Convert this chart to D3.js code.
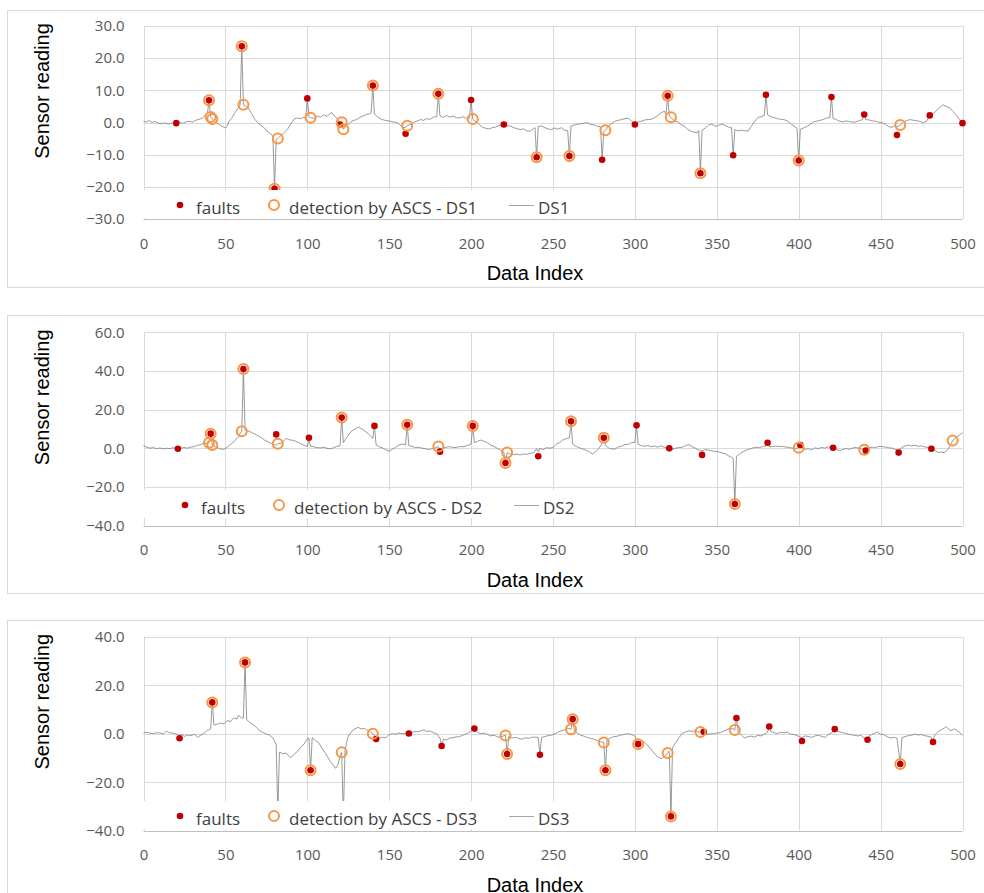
<!DOCTYPE html>
<html>
<head>
<meta charset="utf-8">
<script src="https://cdn.jsdelivr.net/npm/d3@7"></script>
<style>
  body { margin: 0; background: #fff; }
</style>
</head>
<body>
<div id="chart"></div>
<script>
// x axis ticks shared by all three panels
var xTicks = [0, 50, 100, 150, 200, 250, 300, 350, 400, 450, 500];

// DS1 ------------------------------------------------------------
var ds1Ticks = [-30, -20, -10, 0, 10, 20, 30];
var ds1Line = [[0,0.4],[2,0.1],[3,0.7],[5,0],[7,0.3],[9,-0.2],[11,-0.4],[13,-0.1],[15,-0.5],[17,-0.2],[19,-0.3],[20,-0.2],[22,0.1],[24,-0.3],[26,0.2],[28,0.4],[30,0.1],[32,0.7],[34,1.0],[36,1.4],[38,2.3],[39,2.6],[40,6.9],[41,1.7],[42,1.1],[44,0.2],[46,-0.6],[48,-1.2],[50,-1.7],[51,-1.2],[52,0.2],[54,1.5],[56,3.2],[58,4.6],[59,5.4],[60,23.7],[61,5.5],[62,5.2],[64,4.5],[66,2.8],[68,1.0],[70,-0.2],[72,-1.0],[74,-1.8],[75,-2.6],[77,-3.2],[79,-4.3],[80,-20.6],[81,-5.3],[82,-5.0],[84,-4.0],[86,-3.1],[88,-2.0],[89,-1.2],[90,-0.4],[92,1.1],[94,1.4],[96,1.2],[98,1.6],[99,1.5],[100,7.5],[101,1.8],[102,1.5],[104,1.3],[106,2.0],[108,1.6],[110,2.4],[112,1.9],[114,2.8],[115,3.1],[116,2.3],[118,1.4],[120,-0.2],[121,0.1],[122,-2.1],[124,-1.0],[126,-0.1],[128,0.6],[130,0.9],[132,1.6],[134,2.0],[136,2.5],[138,2.7],[139,3.0],[140,11.5],[141,2.6],[142,2.2],[144,1.3],[146,0.9],[148,0.6],[150,0.5],[152,0.2],[154,0.1],[156,-0.4],[158,-1.5],[160,-1.6],[161,-1.0],[163,-0.6],[165,0.1],[167,0.4],[169,0.9],[171,0.7],[173,1.2],[175,1.0],[177,1.7],[179,1.8],[180,8.9],[181,2.0],[183,1.6],[185,2.2],[187,1.7],[189,2.0],[191,1.5],[193,1.4],[195,1.8],[197,1.3],[199,1.5],[200,7.0],[201,1.1],[203,0.2],[205,-0.6],[207,-1.5],[209,-1.8],[211,-2.0],[213,-1.6],[215,-1.4],[217,-0.9],[219,-0.8],[220,-0.6],[222,-1.0],[224,-1.1],[226,-1.6],[228,-1.9],[230,-2.2],[232,-2.0],[234,-2.6],[236,-2.7],[238,-1.9],[239,-1.6],[240,-10.8],[241,-1.2],[243,-1.1],[245,-1.6],[247,-2.0],[249,-2.2],[251,-1.7],[253,-2.1],[255,-1.6],[257,-2.4],[259,-2.6],[260,-10.4],[261,-1.1],[263,-0.8],[265,-0.5],[267,-0.4],[269,-0.2],[271,-0.1],[273,-0.6],[275,-0.7],[277,-1.2],[279,-1.4],[280,-11.6],[281,-2.8],[282,-2.4],[284,-1.1],[286,-0.2],[288,0.4],[290,0.7],[292,0.9],[294,1.2],[296,1.3],[298,0.5],[300,-0.6],[302,0.2],[304,0.4],[306,0.8],[308,0.9],[310,1.0],[312,1.5],[314,2.2],[316,3.0],[318,3.5],[319,2.6],[320,8.3],[321,2.0],[322,1.6],[324,0.5],[326,0.2],[328,-0.6],[330,-1.1],[332,-2.0],[334,-2.7],[336,-3.0],[338,-3.2],[339,-2.5],[340,-15.8],[341,-2.4],[343,-1.7],[345,-0.8],[347,-0.5],[349,-1.2],[351,-0.9],[353,-0.5],[355,-0.9],[357,-1.4],[359,-1.6],[360,-10.2],[361,-2.2],[363,-2.6],[365,-2.4],[367,-2.5],[369,-2.7],[371,-1.2],[373,0.2],[375,1.5],[377,1.8],[379,2.2],[380,8.6],[381,2.4],[383,1.8],[385,1.5],[387,1.2],[389,1.0],[391,0.9],[393,0.5],[395,-0.3],[397,-1.1],[399,-1.8],[400,-11.8],[401,-2.1],[403,-1.7],[405,-1.2],[407,-0.6],[409,0.2],[411,0.4],[413,0.7],[415,0.9],[417,1.4],[419,1.5],[420,7.9],[421,1.3],[423,0.9],[425,0.4],[427,0.2],[429,0.5],[431,0.3],[433,0.1],[435,0.2],[437,0.6],[439,0.9],[440,2.5],[441,0.9],[443,0.8],[445,0.5],[447,0.4],[449,0.1],[451,-0.1],[453,-0.5],[455,-1.3],[457,-1.5],[459,-0.8],[460,-1.4],[461,-1.2],[462,-0.8],[464,0.2],[466,0.6],[468,0.9],[470,0.7],[472,0.6],[474,0.3],[476,0.0],[478,0.3],[480,2.2],[482,2.7],[484,3.6],[486,4.6],[487,5.1],[488,5.5],[490,5.0],[492,4.6],[494,3.5],[496,2.5],[498,1.0],[500,-0.2]];
var ds1Faults = [[20,-0.2],[40,6.9],[60,23.7],[80,-20.6],[100,7.5],[120,-0.6],[140,11.5],[160,-3.5],[180,8.9],[200,7.0],[220,-0.6],[240,-10.8],[260,-10.4],[280,-11.6],[300,-0.6],[320,8.3],[340,-15.8],[360,-10.2],[380,8.6],[400,-11.8],[420,7.9],[440,2.5],[460,-3.9],[480,2.2],[500,-0.2]];
var ds1Detect = [[40,6.9],[41,1.7],[42,1.1],[60,23.7],[61,5.5],[80,-20.6],[82,-5.0],[102,1.5],[121,0.1],[122,-2.1],[140,11.5],[161,-1.0],[180,8.9],[201,1.1],[240,-10.8],[260,-10.4],[282,-2.4],[320,8.3],[322,1.6],[340,-15.8],[400,-11.8],[462,-0.8]];

// DS2 ------------------------------------------------------------
var ds2Ticks = [-40, -20, 0, 20, 40, 60];
var ds2Line = [[0,1.4],[2,0.6],[4,0.1],[6,0.4],[8,-0.2],[10,0.2],[12,-0.3],[14,0.1],[16,-0.2],[18,0.3],[20,-0.1],[21,-0.2],[23,0.2],[25,0.4],[27,0.1],[29,0.7],[31,0.9],[33,1.6],[35,2.0],[37,2.6],[39,2.5],[40,2.9],[41,7.6],[42,1.7],[44,0.6],[46,0.1],[48,-0.6],[50,-0.1],[52,1.3],[54,2.6],[56,4.1],[58,6.0],[59,7.8],[60,8.8],[61,41.0],[62,9.6],[64,9.0],[66,8.2],[68,7.4],[70,6.4],[72,5.5],[74,4.2],[76,3.4],[78,2.5],[80,1.9],[81,1.5],[82,2.4],[84,2.7],[86,4.0],[87,5.2],[89,4.4],[91,4.2],[93,3.6],[95,2.9],[97,2.0],[99,1.3],[100,1.0],[101,4.2],[102,1.1],[104,0.8],[106,0.4],[108,0.2],[110,0.6],[112,0.0],[114,-0.3],[116,0.3],[118,1.0],[120,1.4],[121,15.9],[122,3.0],[124,5.6],[126,8.0],[128,9.5],[130,10.4],[131,11.0],[133,10.2],[135,9.0],[137,7.8],[139,6.0],[140,5.2],[141,11.6],[142,1.8],[144,0.8],[146,0.2],[148,-0.8],[150,-1.4],[152,-0.5],[154,0.6],[156,1.8],[158,2.2],[160,1.8],[161,12.2],[162,1.4],[164,1.0],[166,0.4],[168,0.6],[170,0.1],[172,-0.2],[174,-0.6],[176,-0.3],[178,0.2],[180,0.9],[181,-0.6],[183,0.3],[185,0.6],[187,0.9],[189,0.4],[191,0.5],[193,0.9],[195,0.8],[197,1.2],[199,1.8],[200,2.2],[201,11.6],[202,3.0],[204,3.6],[206,4.3],[208,3.6],[210,2.9],[212,1.6],[214,1.0],[216,0.0],[218,-0.9],[220,-2.0],[221,-7.6],[222,-2.2],[224,-3.0],[226,-3.3],[228,-3.0],[230,-3.4],[232,-2.9],[234,-3.1],[236,-2.6],[238,-2.4],[240,-0.2],[241,-1.8],[242,0.1],[244,-0.6],[246,0.3],[248,0.1],[250,0.4],[252,2.1],[254,3.0],[256,4.3],[258,5.0],[260,5.5],[261,14.0],[262,2.2],[264,1.0],[266,0.4],[268,-0.3],[270,-0.9],[272,-1.6],[274,-3.0],[276,-1.8],[278,-0.1],[280,2.5],[281,5.5],[282,1.6],[284,0.2],[286,-0.4],[288,-0.3],[290,0.8],[292,1.1],[294,2.1],[296,2.0],[298,3.0],[300,3.1],[301,11.9],[302,2.0],[304,1.4],[306,1.0],[308,1.5],[310,0.8],[312,1.2],[314,0.6],[316,1.3],[318,0.5],[320,0.2],[321,0.0],[323,-0.5],[325,0.1],[327,0.4],[329,0.6],[331,1.5],[333,1.9],[335,0.9],[337,0.0],[339,-0.9],[341,-1.4],[343,-0.6],[345,-0.9],[347,-1.3],[349,-1.6],[351,-1.8],[353,-2.3],[355,-2.8],[357,-3.8],[359,-4.6],[360,-5.2],[361,-28.8],[362,-4.2],[364,-2.8],[366,-1.7],[368,-1.0],[370,-0.4],[372,0.2],[374,0.6],[376,0.4],[378,0.9],[380,1.2],[381,2.9],[382,1.0],[384,0.8],[386,1.2],[388,0.9],[390,1.0],[392,0.7],[394,0.5],[396,0.1],[398,-0.2],[400,0.3],[401,1.7],[402,0.2],[404,-0.5],[406,-0.2],[408,-0.8],[410,0.3],[412,-0.2],[414,0.5],[416,0.1],[418,0.8],[420,0.4],[421,0.3],[423,-0.5],[425,-1.3],[427,-0.6],[429,-0.1],[431,-0.5],[433,0.2],[435,0.4],[437,0.0],[439,-0.5],[440,-0.7],[441,-1.2],[443,0.3],[445,0.6],[447,0.4],[449,1.0],[451,0.9],[453,0.7],[455,0.3],[457,0.1],[459,-0.6],[461,-1.0],[463,0.5],[465,1.2],[467,1.7],[469,1.2],[471,1.6],[473,1.0],[475,1.3],[477,0.7],[479,0.5],[481,-0.2],[483,-1.0],[485,-2.1],[487,-2.0],[489,-2.2],[491,-0.6],[493,2.4],[494,4.1],[496,5.5],[498,6.8],[500,8.1]];
var ds2Faults = [[21,-0.2],[41,7.6],[61,41.0],[81,7.2],[101,5.5],[121,15.9],[141,11.6],[161,12.2],[181,-1.7],[201,11.6],[221,-7.6],[241,-4.1],[261,14.0],[281,5.5],[301,11.9],[321,0.0],[341,-3.4],[361,-28.8],[381,2.9],[401,1.7],[421,0.3],[441,-1.2],[461,-2.2],[481,-0.2]];
var ds2Detect = [[40,2.9],[41,7.6],[42,1.7],[60,8.8],[61,41.0],[82,2.4],[121,15.9],[161,12.2],[180,0.9],[201,11.6],[221,-7.6],[222,-2.2],[261,14.0],[281,5.5],[361,-28.8],[400,0.3],[440,-0.7],[494,4.1]];

// DS3 ------------------------------------------------------------
var ds3Ticks = [-40, -20, 0, 20, 40];
var ds3Line = [[0,0.3],[2,0.6],[4,0.2],[6,0.0],[8,0.4],[10,0.3],[12,-0.1],[14,1.0],[16,0.4],[18,0.2],[20,-0.2],[22,-0.7],[24,-0.4],[25,-1.1],[27,-0.5],[29,-0.8],[31,-0.2],[33,-1.5],[35,-0.6],[37,0.1],[39,1.4],[40,1.6],[41,2.0],[42,12.9],[43,3.6],[45,3.9],[47,4.4],[49,4.0],[51,5.4],[53,5.0],[55,6.5],[57,6.0],[58,7.6],[59,7.0],[60,6.5],[61,6.4],[62,29.4],[63,5.8],[65,4.6],[67,3.7],[69,2.6],[71,1.2],[73,0.5],[75,-0.1],[77,-0.6],[79,-1.8],[80,-3.0],[81,-4.5],[82,-33.0],[83,-7.6],[85,-8.2],[87,-8.0],[89,-9.4],[90,-9.8],[92,-8.5],[94,-7.3],[96,-5.5],[98,-4.3],[100,-2.0],[101,-1.8],[102,-15.1],[103,-1.6],[105,-2.8],[107,-3.8],[109,-6.0],[111,-8.0],[113,-10.2],[114,-11.4],[116,-13.0],[117,-14.2],[118,-13.8],[119,-12.1],[120,-9.0],[121,-7.7],[122,-35.0],[123,-7.0],[124,-3.5],[125,-1.1],[127,0.8],[128,1.6],[130,2.3],[131,2.6],[133,2.0],[135,2.2],[137,1.3],[138,1.0],[140,0.0],[141,-0.5],[142,-2.2],[144,-1.8],[146,-1.5],[148,-1.7],[150,-0.4],[152,0.0],[154,-0.2],[156,0.3],[158,0.0],[160,0.2],[162,0.1],[164,0.6],[166,0.9],[168,0.8],[170,1.4],[171,1.6],[173,0.9],[175,1.1],[177,0.4],[179,-0.1],[181,-1.8],[182,-5.1],[183,-2.3],[185,-2.6],[187,-1.8],[189,-1.6],[191,-1.3],[193,-1.2],[195,-0.6],[197,-0.1],[199,0.6],[200,1.0],[202,2.1],[204,0.5],[206,0.0],[208,0.2],[210,-0.3],[212,-0.9],[214,-0.6],[216,-1.3],[218,-1.5],[220,-0.8],[221,-0.7],[222,-8.4],[223,-1.2],[225,-1.8],[227,-1.5],[229,-1.9],[231,-2.3],[233,-1.7],[235,-1.9],[237,-1.5],[239,-1.4],[241,-1.6],[242,-8.7],[243,-1.5],[245,-1.2],[247,-0.8],[249,-0.6],[251,-0.1],[253,0.6],[255,1.2],[257,1.6],[259,2.3],[261,1.8],[262,6.0],[263,1.2],[265,0.2],[267,-0.7],[269,-1.0],[271,-1.6],[273,-1.9],[275,-2.2],[277,-2.9],[279,-3.3],[281,-3.6],[282,-15.1],[283,-2.6],[285,-1.8],[287,-1.2],[289,-1.1],[291,-0.6],[293,-0.4],[295,0.0],[297,-0.2],[299,-0.6],[300,-0.9],[302,-4.3],[304,-2.9],[306,-3.6],[308,-5.0],[310,-6.6],[312,-8.3],[314,-9.6],[316,-10.3],[318,-9.4],[320,-8.0],[321,-7.2],[322,-34.1],[323,-5.6],[325,-3.6],[327,-1.6],[329,0.2],[331,0.7],[333,1.2],[335,0.9],[337,1.3],[339,0.6],[340,0.7],[342,0.8],[344,-0.3],[346,0.0],[348,-0.1],[350,0.3],[352,0.4],[354,1.0],[356,1.6],[358,2.3],[360,2.0],[361,1.5],[362,6.5],[363,0.9],[365,-0.5],[367,-1.8],[369,-1.2],[371,-1.0],[373,-1.4],[375,-0.7],[377,-0.9],[379,-0.2],[381,0.6],[382,3.0],[383,0.9],[385,0.4],[387,0.1],[389,0.6],[391,0.3],[393,0.7],[395,-0.2],[397,-0.3],[399,-0.8],[400,-1.1],[402,-1.6],[404,-0.9],[406,-1.2],[408,-1.5],[410,-0.9],[412,-0.6],[414,-1.1],[416,-1.5],[418,-0.4],[420,0.3],[422,1.9],[424,0.9],[426,0.6],[428,0.2],[430,-0.1],[432,-0.4],[434,-0.7],[436,-0.9],[438,-0.7],[440,-1.8],[442,-2.5],[443,-0.9],[445,-0.2],[447,0.4],[448,0.7],[450,-0.2],[452,-0.4],[454,-1.2],[456,-1.8],[458,-1.5],[460,-1.8],[462,-12.5],[463,-1.6],[465,-1.2],[467,-0.8],[469,-0.6],[471,-0.2],[473,-0.5],[475,-0.4],[477,-0.8],[479,-1.1],[481,-1.4],[482,-3.4],[483,-0.6],[485,0.8],[487,1.6],[489,2.3],[490,3.0],[491,2.2],[493,1.2],[495,2.0],[497,1.1],[499,0.0],[500,-0.7]];
var ds3Faults = [[22,-1.9],[42,12.9],[62,29.4],[82,-33.0],[102,-15.1],[122,-35.0],[142,-2.2],[162,0.1],[182,-5.1],[202,2.1],[222,-8.4],[242,-8.7],[262,6.0],[282,-15.1],[302,-4.3],[322,-34.1],[342,0.8],[362,6.5],[382,3.0],[402,-3.0],[422,1.9],[442,-2.5],[462,-12.5],[482,-3.4]];
var ds3Detect = [[42,12.9],[62,29.4],[102,-15.1],[121,-7.7],[140,0.0],[221,-0.7],[222,-8.4],[261,1.8],[262,6.0],[281,-3.6],[282,-15.1],[302,-4.3],[320,-8.0],[322,-34.1],[340,0.7],[361,1.5],[462,-12.5]];

var panels = [
    {name: "DS1", top: 10, bottom: 287, plotTop: 26, plotBottom: 219, ticks: ds1Ticks, line: ds1Line, faults: ds1Faults, detect: ds1Detect, legendY: 205, legendDx: 0},
    {name: "DS2", top: 315, bottom: 593, plotTop: 332.3, plotBottom: 525.7, ticks: ds2Ticks, line: ds2Line, faults: ds2Faults, detect: ds2Detect, legendY: 505, legendDx: 5},
    {name: "DS3", top: 620, bottom: 910, plotTop: 636.7, plotBottom: 830.7, ticks: ds3Ticks, line: ds3Line, faults: ds3Faults, detect: ds3Detect, legendY: 816, legendDx: 0}
];

var plotLeft = 143.5, plotRight = 962.5;
var tickFont = "'Open Sans', 'DejaVu Sans', sans-serif";
var titleFont = "'Liberation Sans', Arial, sans-serif";

var svg = d3.select("#chart").append("svg").attr("width", 984).attr("height", 893);

var x = d3.scaleLinear().domain([0, 500]).range([plotLeft, plotRight]);

panels.forEach(function(p) {
    var y = d3.scaleLinear().domain(d3.extent(p.ticks)).range([p.plotBottom, p.plotTop]);
    var g = svg.append("g");

    // chart area frame
    g.append("rect").attr("x", 7.5).attr("y", p.top + 0.5).attr("width", 1000).attr("height", p.bottom - p.top)
        .attr("fill", "#fff").attr("stroke", "#d9d9d9").attr("stroke-width", 1);

    // gridlines
    g.selectAll(".hgrid").data(p.ticks).enter().append("line")
        .attr("x1", plotLeft).attr("x2", plotRight)
        .attr("y1", function(d) { return Math.round(y(d)) + 0.5; })
        .attr("y2", function(d) { return Math.round(y(d)) + 0.5; })
        .attr("stroke", function(d, i) { return i === 0 ? "#bfbfbf" : "#d9d9d9"; })
        .attr("stroke-width", 1);
    g.selectAll(".vgrid").data(xTicks).enter().append("line")
        .attr("x1", function(d) { return Math.round(x(d)) + 0.5; })
        .attr("x2", function(d) { return Math.round(x(d)) + 0.5; })
        .attr("y1", p.plotTop).attr("y2", p.plotBottom)
        .attr("stroke", "#d9d9d9").attr("stroke-width", 1);

    // axes labels
    var yAxis = d3.axisLeft(y).tickValues(p.ticks).tickFormat(d3.format(".1f")).tickSize(0).tickPadding(19);
    var xAxis = d3.axisBottom(x).tickValues(xTicks).tickSize(0).tickPadding(19);
    var ya = g.append("g").attr("transform", "translate(" + plotLeft + ",0)").call(yAxis);
    var xa = g.append("g").attr("transform", "translate(0," + p.plotBottom + ")").call(xAxis);
    [ya, xa].forEach(function(a) {
        a.select(".domain").remove();
        a.selectAll("text").attr("fill", "#595959").style("font-family", tickFont).style("font-size", "15px");
    });

    // DS line
    var line = d3.line().x(function(d) { return x(d[0]); }).y(function(d) { return y(d[1]); });
    g.append("path").attr("d", line(p.line)).attr("fill", "none")
        .attr("stroke", "#7f7f7f").attr("stroke-width", 0.8).attr("stroke-linejoin", "round");

    // faults
    g.selectAll(".fault").data(p.faults).enter().append("circle")
        .attr("cx", function(d) { return x(d[0]); }).attr("cy", function(d) { return y(d[1]); })
        .attr("r", 3.3).attr("fill", "#c00000");

    // detections
    g.selectAll(".detect").data(p.detect).enter().append("circle")
        .attr("cx", function(d) { return x(d[0]); }).attr("cy", function(d) { return y(d[1]); })
        .attr("r", 5).attr("fill", "none").attr("stroke", "#f79646").attr("stroke-width", 2);

    // legend (white box sitting over the plot area)
    var lx = p.legendDx, ly = p.legendY;
    g.append("rect").attr("x", 140).attr("y", ly - 15).attr("width", 425).attr("height", 28).attr("fill", "#fff");
    g.append("circle").attr("cx", 180 + lx).attr("cy", ly).attr("r", 3.3).attr("fill", "#c00000");
    g.append("circle").attr("cx", 274 + lx).attr("cy", ly).attr("r", 5).attr("fill", "none")
        .attr("stroke", "#f79646").attr("stroke-width", 2);
    g.append("line").attr("x1", 509 + lx).attr("x2", 534 + lx).attr("y1", ly + 0.5).attr("y2", ly + 0.5)
        .attr("stroke", "#a6a6a6").attr("stroke-width", 1);
    var legendText = [[196, "faults"], [289, "detection by ASCS - " + p.name], [538, p.name]];
    g.selectAll(".ltext").data(legendText).enter().append("text")
        .attr("x", function(d) { return d[0] + lx; }).attr("y", ly + 9)
        .attr("fill", "#404040").style("font-family", tickFont).style("font-size", "17px")
        .text(function(d) { return d[1]; });

    // axis titles
    g.append("text").attr("x", 535).attr("y", p.plotBottom + 61).attr("text-anchor", "middle")
        .style("font-family", titleFont).style("font-size", "20px").attr("fill", "#000").text("Data Index");
    g.append("text").attr("transform", "translate(49," + (p.plotTop + 65) + ") rotate(-90)")
        .attr("text-anchor", "middle").style("font-family", titleFont).style("font-size", "20px")
        .attr("fill", "#000").text("Sensor reading");
});
</script>
</body>
</html>
